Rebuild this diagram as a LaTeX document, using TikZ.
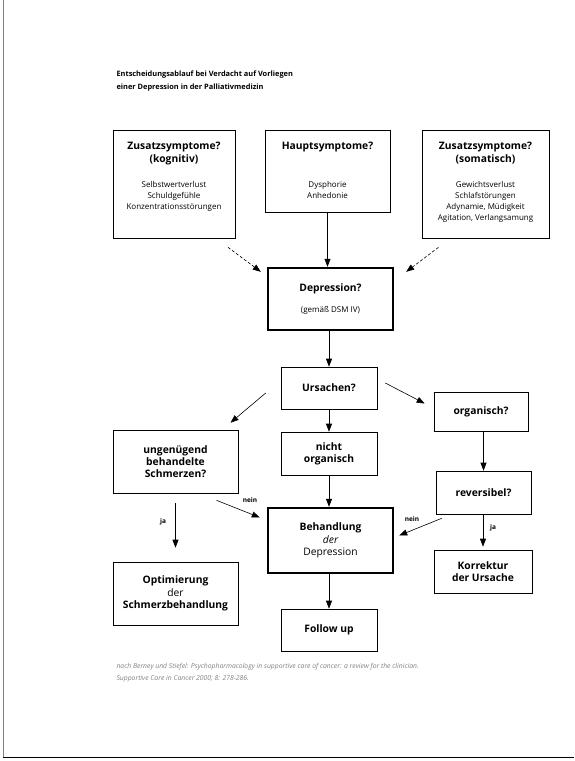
\documentclass[tikz,border=0pt]{standalone}
\usepackage{fontspec}
\setmainfont{Open Sans}
\usetikzlibrary{arrows.meta}

\begin{document}
\begin{tikzpicture}[x=1pt, y=-1pt,
  box/.style={draw, line width=0.6pt, align=center, inner sep=0pt, font=\fontsize{10.3}{12.3}\selectfont\bfseries},
  mainbox/.style={box, line width=2.4pt},
  boxtext/.style={anchor=north, align=center, inner sep=0pt, font=\fontsize{10.3}{13}\selectfont\bfseries},
  arr/.style={-{Triangle[length=8pt,width=6pt]}, line width=0.6pt},
  dasharr/.style={arr, dash pattern=on 3pt off 2pt},
  yesno/.style={font=\fontsize{6.5}{7.5}\selectfont\bfseries, inner sep=0pt}]
\useasboundingbox (0,0) rectangle (574,761);
% page edge of the scan
\draw [gray, line width=1pt] (3,0) -- (3,757);
\draw [line width=1pt] (3,757) -- (574,757);
% heading
\node [anchor=west, align=left, font=\fontsize{7.4}{13}\selectfont\bfseries] (head) at (113,81.5)
  {Entscheidungsablauf bei Verdacht auf Vorliegen\\einer Depression in der Palliativmedizin};
% first row
\node [box, minimum width=122, minimum height=108] (zusK) at (174,184) {};
\node [boxtext] (zusKtitle) at (174,142) {Zusatzsymptome?\\(kognitiv)};
\node [boxtext, font=\fontsize{8}{11}\selectfont] (zusKtext) at (174,181) {Selbstwertverlust\\Schuldgefühle\\Konzentrationsstörungen};
\node [box, minimum width=125, minimum height=82] (haupt) at (327.5,171) {};
\node [boxtext] (hauptTitle) at (327.5,142) {Hauptsymptome?};
\node [boxtext, font=\fontsize{8}{11}\selectfont] (hauptText) at (327.5,181) {Dysphorie\\Anhedonie};
\node [box, minimum width=127, minimum height=108] (zusS) at (485.5,184) {};
\node [boxtext] (zusStitle) at (485.5,142) {Zusatzsymptome?\\(somatisch)};
\node [boxtext, font=\fontsize{8}{11}\selectfont] (zusStext) at (485.5,181) {Gewichtsverlust\\Schlafstörungen\\Adynamie, Müdigkeit\\Agitation, Verlangsamung};
\node [mainbox, minimum width=125, minimum height=62] (depr) at (330.5,299)
  {Depression?\\[9pt]\fontsize{8}{9}\selectfont\mdseries (gemäß DSM IV)};
\draw [dasharr] ([xshift=54pt,yshift=-9pt]zusK.south) -- ([xshift=-6pt,yshift=-5pt]depr.north west);
\draw [arr] (haupt.south) -- (haupt.south |- depr.north);
\draw [dasharr] ([xshift=-47pt,yshift=-9pt]zusS.south) -- ([xshift=12pt,yshift=-5pt]depr.north east);
% causes
\node [box, minimum width=96, minimum height=42] (urs) at (329,388) {Ursachen?};
\node [box, minimum width=94, minimum height=39] (org) at (481,411.5) {organisch?};
\node [box, minimum width=125, minimum height=63] (unge) at (175.5,461.5) {ungenügend\\behandelte\\Schmerzen?};
\node [box, minimum width=96, minimum height=43] (nicht) at (329,453.5) {nicht\\organisch};
\node [box, minimum width=95, minimum height=43] (rev) at (483.5,492.5) {reversibel?};
\draw [arr] (depr.south -| urs) -- (urs.north);
\draw [arr] ([xshift=-15pt,yshift=-5pt]urs.west) -- ([xshift=55pt,yshift=7pt]unge.north);
\draw [arr] ([xshift=8pt,yshift=5pt]urs.east) -- ([xshift=-9pt,yshift=8pt]org.west);
\draw [arr] (urs.south) -- (nicht.north);
\draw [arr] (org.south -| rev) -- (rev.north);
% treatment
\node [mainbox, minimum width=125, minimum height=65] (behand) at (330.5,540.5)
  {Behandlung\\\mdseries\itshape der\\\mdseries\upshape Depression};
\node [box, minimum width=125, minimum height=63] (opt) at (175.5,593.5) {Optimierung\\\mdseries der\\\bfseries Schmerzbehandlung};
\node [box, minimum width=96, minimum height=42] (follow) at (329,630) {Follow up};
\node [box, minimum width=98, minimum height=43] (korr) at (483,571.5) {Korrektur\\der Ursache};
\draw [arr] (nicht.south) -- (nicht.south |- behand.north);
\draw [arr] ([xshift=41pt,yshift=-7pt]unge.south) -- ([xshift=-7pt,yshift=23pt]behand.west);
\node [yesno] (nein1) at (250,500) {nein};
\draw [arr, shorten <=10pt, shorten >=14pt] (unge.south) -- (opt.north);
\node [yesno] (ja1) at (163,522) {ja};
\draw [arr] ([xshift=6pt,yshift=-4pt]rev.south west) -- ([xshift=5pt,yshift=5pt]behand.east);
\node [yesno] (nein2) at (412,519) {nein};
\draw [arr, shorten >=3pt] (rev.south -| korr) -- (korr.north);
\node [yesno] (ja2) at (493,528) {ja};
\draw [arr] (behand.south -| follow) -- (follow.north);
% source
\node [anchor=west, align=left, text=gray, font=\fontsize{6.8}{12}\selectfont\itshape] (quelle) at (113,673)
  {nach Berney und Stiefel: Psychopharmacology in supportive care of cancer: a review for the clinician.\\Supportive Care in Cancer 2000; 8: 278-286.};
\end{tikzpicture}
\end{document}
